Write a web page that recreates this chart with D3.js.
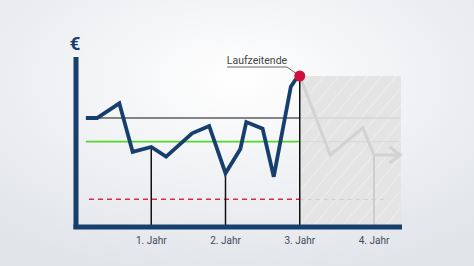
<!DOCTYPE html>
<meta charset="utf-8">
<style>
body { margin: 0; }
svg { display: block; font-family: Roboto, "Open Sans", sans-serif; }
</style>
<body>
<script src="https://d3js.org/d3.v7.min.js"></script>
<script>

const width = 474
const height = 266

// course of the value (x in years, y in % of top)
const years = [0.12, 0.27, 0.57, 0.75, 1.0, 1.2, 1.55, 1.78, 2.0, 2.2, 2.28, 2.5, 2.65, 2.88, 2.94, 3.0]
const values = [72.2, 72.2, 81.9, 49.7, 53, 46.6, 62, 66.9, 35.6, 51.7, 69.5, 65.1, 33.3, 92.9, 97.4, 100]

// faded continuation after the end of term
const futureYears = [3.0, 3.41, 3.85, 4.0, 4.33]
const futureValues = [100, 47.7, 65.6, 47.7, 47.7]

const startLevel = 72.2
const greenLevel = 56.5
const barrierLevel = 18.3

const tickYears = [1, 2, 3, 4]
const tickLabels = ['1. Jahr', '2. Jahr', '3. Jahr', '4. Jahr']

const x = d3.scaleLinear().domain([0, 4]).range([77, 374])
const y = d3.scaleLinear().domain([0, 100]).range([227, 76])

const svg = d3.select('body').append('svg')
	.attr('width', width)
	.attr('height', height)

const defs = svg.append('defs')
const grad = defs.append('radialGradient').attr('id', 'bg')
	.attr('cx', '50%').attr('cy', '30%').attr('r', '75%')
grad.append('stop').attr('offset', '0%').attr('stop-color', '#ffffff')
grad.append('stop').attr('offset', '100%').attr('stop-color', '#e1e4e9')

const pat = defs.append('pattern').attr('id', 'hatch')
	.attr('patternUnits', 'userSpaceOnUse')
	.attr('width', 11).attr('height', 11)
	.attr('patternTransform', 'rotate(40)')
pat.append('rect').attr('width', 11).attr('height', 11).attr('fill', '#e4e4e4')
pat.append('line').attr('x1', 0).attr('y1', 0).attr('x2', 0).attr('y2', 11)
	.attr('stroke', '#f4f4f4').attr('stroke-width', 1.2)

svg.append('rect').attr('width', width).attr('height', height).attr('fill', 'url(#bg)')

// shaded area after the end of term
svg.append('rect')
	.attr('x', x(3)).attr('y', y(100))
	.attr('width', 401 - x(3)).attr('height', y(0) - y(100))
	.attr('fill', 'url(#hatch)')

// faint lines on the shaded area
svg.append('line')
	.attr('x1', x(3)).attr('x2', 400)
	.attr('y1', y(startLevel)).attr('y2', y(startLevel))
	.attr('stroke', '#cfcfcf').attr('stroke-width', 1)
svg.append('line')
	.attr('x1', x(3)).attr('x2', 400)
	.attr('y1', y(greenLevel)).attr('y2', y(greenLevel))
	.attr('stroke', '#d6d6d6').attr('stroke-width', 1)
svg.append('line')
	.attr('x1', x(3)).attr('x2', 388)
	.attr('y1', y(barrierLevel)).attr('y2', y(barrierLevel))
	.attr('stroke', '#cccccc').attr('stroke-width', 1)
	.attr('stroke-dasharray', '4,4')

svg.append('line')
	.attr('x1', x(4)).attr('x2', x(4))
	.attr('y1', y(futureValues[3])).attr('y2', y(0))
	.attr('stroke', '#cdcdcd').attr('stroke-width', 2)

const line = d3.line().x(d => x(d[0])).y(d => y(d[1]))

svg.append('path')
	.datum(d3.zip(futureYears, futureValues))
	.attr('d', line)
	.attr('fill', 'none')
	.attr('stroke', '#d2d2d2')
	.attr('stroke-width', 3)
	.attr('stroke-linejoin', 'miter')

// arrow head
const ax = x(futureYears[4]), ay = y(futureValues[4])
svg.append('path')
	.attr('d', `M${ax - 9},${ay - 8} L${ax + 2},${ay} L${ax - 9},${ay + 8}`)
	.attr('fill', 'none').attr('stroke', '#d2d2d2').attr('stroke-width', 3)

// horizontal levels
svg.append('line')
	.attr('x1', x(years[0])).attr('x2', x(3))
	.attr('y1', y(startLevel)).attr('y2', y(startLevel))
	.attr('stroke', '#5c5c5c').attr('stroke-width', 1.3)
svg.append('line')
	.attr('x1', x(years[0])).attr('x2', x(3))
	.attr('y1', y(greenLevel)).attr('y2', y(greenLevel))
	.attr('stroke', '#55d62c').attr('stroke-width', 1.7)
svg.append('line')
	.attr('x1', 89).attr('x2', x(3))
	.attr('y1', y(barrierLevel)).attr('y2', y(barrierLevel))
	.attr('stroke', '#d42a50').attr('stroke-width', 1.5)
	.attr('stroke-dasharray', '5,4')

// year markers
const valueAt = t => values[years.indexOf(t)]
svg.selectAll('.yline')
	.data([1, 2, 3])
	.enter()
	.append('line')
	.attr('x1', d => x(d)).attr('x2', d => x(d))
	.attr('y1', d => y(valueAt(d))).attr('y2', y(0))
	.attr('stroke', '#111').attr('stroke-width', 1.5)

svg.append('path')
	.datum(d3.zip(years, values))
	.attr('d', line)
	.attr('fill', 'none')
	.attr('stroke', '#173f6d')
	.attr('stroke-width', 3.8)
	.attr('stroke-linejoin', 'miter')

// axes
svg.append('line')
	.attr('x1', 76).attr('x2', 76).attr('y1', 57).attr('y2', 229)
	.attr('stroke', '#173f6d').attr('stroke-width', 5)
svg.append('line')
	.attr('x1', 73.5).attr('x2', 402).attr('y1', 227).attr('y2', 227)
	.attr('stroke', '#173f6d').attr('stroke-width', 5)

svg.append('text')
	.attr('x', 75).attr('y', 50)
	.attr('text-anchor', 'middle')
	.attr('font-size', 19).attr('font-weight', 'bold')
	.attr('fill', '#173f6d')
	.text('€')

svg.selectAll('.tick')
	.data(tickYears)
	.enter()
	.append('text')
	.attr('x', d => x(d))
	.attr('y', 244)
	.attr('text-anchor', 'middle')
	.attr('font-size', 10)
	.attr('fill', '#3f4a5c')
	.text((d, i) => tickLabels[i])

// end of term marker
svg.append('path')
	.attr('d', `M227,67 L287,67 L${x(3)},${y(100)}`)
	.attr('fill', 'none').attr('stroke', '#666').attr('stroke-width', 1)
svg.append('text')
	.attr('x', 257).attr('y', 64)
	.attr('text-anchor', 'middle')
	.attr('font-size', 10.5)
	.attr('fill', '#444')
	.text('Laufzeitende')
svg.append('circle')
	.attr('cx', x(3)).attr('cy', y(100))
	.attr('r', 5.5)
	.attr('fill', '#d0103a')

</script>
</body>
</html>
